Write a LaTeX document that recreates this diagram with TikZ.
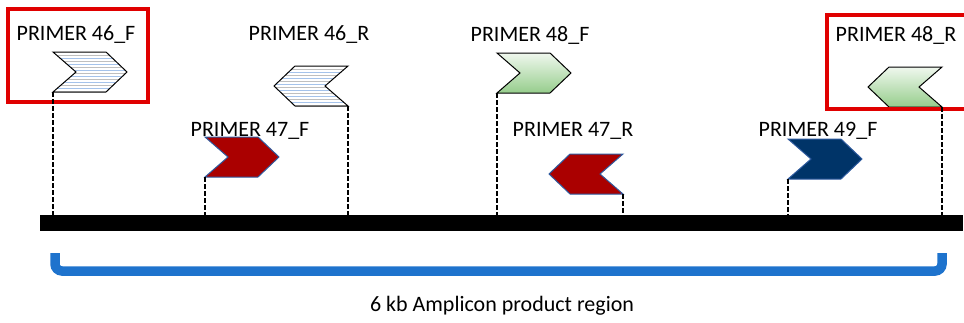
\documentclass[tikz,border=0pt]{standalone}
\usepackage{fontspec}
\setmainfont{Carlito}
\usepackage{tikz}
\usetikzlibrary{calc}
\definecolor{boxred}{RGB}{224,0,0}
\definecolor{darkred}{RGB}{170,0,0}
\definecolor{navy}{RGB}{0,52,104}
\definecolor{edgeblue}{RGB}{46,90,158}
\definecolor{leaf}{RGB}{150,205,140}
\definecolor{hatchblue}{RGB}{165,195,235}
\definecolor{bracket}{RGB}{30,115,205}
\def\pathR(#1,#2){(#1,#2) -- ++(53,0) -- ++(21,20) -- ++(-21,20) -- ++(-53,0) -- ++(23,-20) -- cycle}
\def\pathL(#1,#2){(#1,#2) -- ++(-53,0) -- ++(-21,20) -- ++(21,20) -- ++(53,0) -- ++(-23,-20) -- cycle}
\def\hatch(#1,#2){%
	\fill[white] ({#1-80},#2) rectangle ({#1+80},{#2+40});
	\foreach \k in {3,9,...,39} \draw[gray!50,line width=0.7] ({#1-80},{#2+\k}) -- ({#1+80},{#2+\k});
	\foreach \k in {6,12,...,36} \draw[hatchblue,line width=0.7] ({#1-80},{#2+\k}) -- ({#1+80},{#2+\k});
}
\tikzset{
	lbl/.style={font=\fontsize{22}{26}\selectfont, inner sep=0pt},
	tie/.style={line width=1.4, dash pattern=on 4.5pt off 2.5pt},
	outline/.style={draw=black, line width=1},
	solid red/.style={fill=darkred, draw=edgeblue, line width=1},
	solid navy/.style={fill=navy, draw=edgeblue, line width=1},
	glow/.style={top color=leaf!15, middle color=leaf!55, bottom color=leaf},
	pick/.style={draw=boxred, line width=3.3},
}

\begin{document}
\begin{tikzpicture}[x=1pt, y=-1pt]
			\useasboundingbox (0,0) rectangle (964,322);
			%%%%% LABELS %%%%%
			\node[lbl] (t46f) at (76,35) {PRIMER 46\_F};
			\node[lbl] (t46r) at (309,35) {PRIMER 46\_R};
			\node[lbl] (t48f) at (530,35) {PRIMER 48\_F};
			\node[lbl] (t48r) at (896,35) {PRIMER 48\_R};
			\node[lbl] (t47f) at (250,131) {PRIMER 47\_F};
			\node[lbl] (t47r) at (573,131) {PRIMER 47\_R};
			\node[lbl] (t49f) at (818,131) {PRIMER 49\_F};
			\node[lbl] (amp) at (502,306) {6 kb Amplicon product region};
			
			%%%%% PRIMERS %%%%%
			\begin{scope}
				\clip \pathR(53,52);
				\hatch(53,52)
			\end{scope}
			\draw[outline] \pathR(53,52);
			\coordinate (p46f) at (53,92);
			
			\begin{scope}
				\clip \pathL(348,66);
				\hatch(348,66)
			\end{scope}
			\draw[outline] \pathL(348,66);
			\coordinate (p46r) at (348,106);
			
			\draw[solid red] \pathR(205,137);
			\coordinate (p47f) at (205,177);
			
			\shade[glow] \pathR(497,53);
			\draw[outline] \pathR(497,53);
			\coordinate (p48f) at (497,93);
			
			\draw[solid red] \pathL(623,154);
			\coordinate (p47r) at (623,194);
			
			\draw[solid navy] \pathR(788,139);
			\coordinate (p49f) at (788,179);
			
			\shade[glow] \pathL(942,67);
			\draw[outline] \pathL(942,67);
			\coordinate (p48r) at (942,107);
			
			%%%%% SELECTED %%%%%
			\draw[pick] (8,9) rectangle (148,102);
			\draw[pick] (966,15) -| (827,109) -- (966,109);
			
			%%%%% TEMPLATE %%%%%
			\fill[black] (40,215) rectangle (963,231);
			\coordinate (bar) at (0,215);
			\foreach \p in {p46f,p46r,p47f,p48f,p47r,p49f,p48r}
				\draw[tie] (\p) -- (\p |- bar);
			
			\draw[bracket, line width=9.5, rounded corners=7] (55,253) |- (942,271) -- (942,253);
			%%%%% END %%%%%
\end{tikzpicture}
\end{document}
